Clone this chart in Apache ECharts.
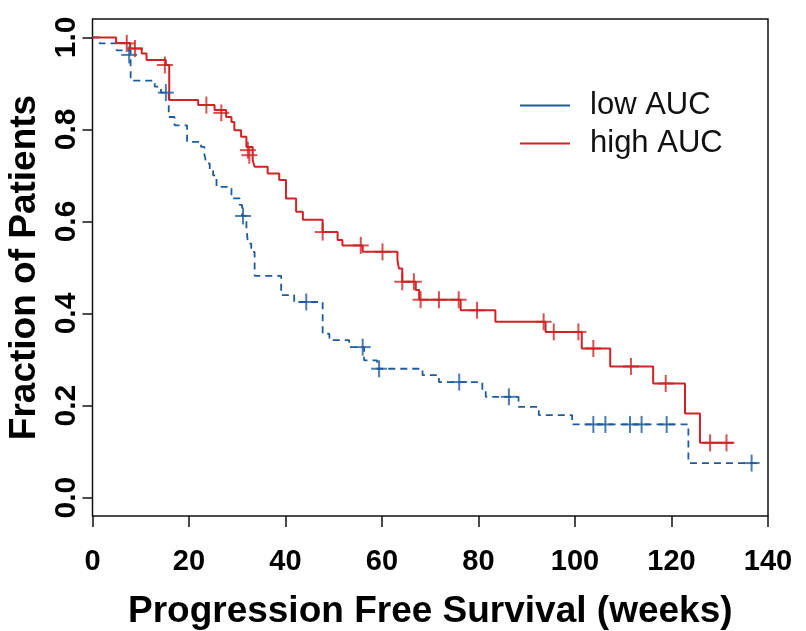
<!DOCTYPE html>
<html>
<head>
<meta charset="utf-8">
<script src="https://cdn.jsdelivr.net/npm/echarts@6/dist/echarts.min.js"></script>
<style>
  html, body { margin: 0; padding: 0; background: #fff; }
  #chart { width: 806px; height: 631px; }
</style>
</head>
<body>
<div id="chart"></div>
<script>
// Kaplan-Meier step points [week, fraction] (value after each drop)
const highAucSteps = [
  [0, 1.0], [4.9, 0.988], [7.8, 0.976], [10.2, 0.965], [11.2, 0.951], [15.2, 0.94],
  [15.9, 0.864], [21.9, 0.853], [25.3, 0.842], [27.7, 0.827], [28.8, 0.816],
  [29.4, 0.798], [30.8, 0.784], [31.9, 0.762], [33.2, 0.733], [33.6, 0.719],
  [36.3, 0.704], [38.7, 0.69], [40.1, 0.65], [42.2, 0.621], [43.6, 0.604],
  [47.7, 0.577], [50.8, 0.56], [51.8, 0.548], [56.0, 0.534], [63.2, 0.516],
  [63.5, 0.498], [64.2, 0.469], [67.0, 0.451], [67.7, 0.43], [76.3, 0.407],
  [83.5, 0.382], [93.9, 0.36], [101.4, 0.324], [107.3, 0.285], [116.2, 0.248],
  [122.8, 0.183], [125.9, 0.119], [132.8, 0.119]
];
const highAucCensor = [
  [7.1, 0.987], [8.8, 0.976], [15.0, 0.94], [23.6, 0.853], [26.7, 0.836],
  [32.2, 0.755], [32.5, 0.744], [47.7, 0.577], [55.6, 0.548], [60.1, 0.534],
  [64.2, 0.469], [66.6, 0.469], [68.0, 0.43], [71.8, 0.43], [75.9, 0.43],
  [79.7, 0.407], [93.5, 0.382], [95.6, 0.36], [100.7, 0.36], [103.8, 0.324],
  [111.6, 0.285], [118.8, 0.248], [128.0, 0.119], [131.4, 0.119]
];
const lowAucSteps = [
  [0, 1.0], [1.5, 0.987], [5.0, 0.972], [7.9, 0.906], [12.9, 0.893], [14.2, 0.88],
  [15.8, 0.827], [17.0, 0.809], [19.6, 0.773], [22.5, 0.762], [23.2, 0.745],
  [23.6, 0.726], [24.3, 0.712], [25.0, 0.70], [25.7, 0.675], [28.8, 0.65],
  [30.5, 0.636], [31.0, 0.612], [31.9, 0.588], [32.2, 0.552], [32.9, 0.534],
  [33.6, 0.482], [39.1, 0.44], [41.8, 0.425], [47.7, 0.356], [49.1, 0.342],
  [53.2, 0.327], [56.3, 0.298], [59.0, 0.28], [68.4, 0.266], [71.8, 0.251],
  [80.8, 0.233], [81.5, 0.219], [88.3, 0.197], [92.5, 0.179], [99.4, 0.159],
  [123.5, 0.075], [138.3, 0.075]
];
const lowAucCensor = [
  [7.6, 0.962], [15.2, 0.88], [31.2, 0.612], [44.3, 0.425], [56.0, 0.327],
  [59.4, 0.28], [76.0, 0.251], [86.3, 0.219], [103.8, 0.159], [106.3, 0.159],
  [111.4, 0.159], [113.8, 0.159], [119.0, 0.159], [136.6, 0.075]
];
const xTicks = [0, 20, 40, 60, 80, 100, 120, 140];
const yTicks = [0, 0.2, 0.4, 0.6, 0.8, 1.0];

const blue = '#1f5b9c';
const red = '#cf2326';
const axisFont = '"Liberation Sans", Arial, sans-serif';

const chart = echarts.init(document.getElementById('chart'));

// censor marks drawn as "+" from two thin rects
const censorSeries = (name, data, color) => [
  {
    name, type: 'scatter', data, symbol: 'rect', symbolSize: [16, 2],
    itemStyle: { color }, silent: true, z: 3
  },
  {
    name, type: 'scatter', data, symbol: 'rect', symbolSize: [2, 17],
    itemStyle: { color }, silent: true, z: 3
  }
];

chart.setOption({
  animation: false,
  backgroundColor: '#fff',
  grid: {
    left: 92.5, right: 38, top: 19, bottom: 115,
    outerBoundsMode: 'none',
    show: true, borderColor: '#111', borderWidth: 1.5, containLabel: false
  },
  legend: {
    orient: 'vertical',
    left: 515, top: 85,
    itemGap: 7,
    itemWidth: 50, itemHeight: 2,
    icon: 'rect',
    textStyle: { fontFamily: axisFont, fontSize: 31, color: '#111', padding: [0, 0, 0, 15] },
    data: [
      { name: 'low AUC', itemStyle: { color: blue } },
      { name: 'high AUC', itemStyle: { color: red } }
    ]
  },
  xAxis: {
    type: 'value', min: 0, max: 140, interval: 20,
    name: 'Progression Free Survival (weeks)',
    nameLocation: 'middle', nameGap: 77,
    nameTextStyle: { fontFamily: axisFont, fontWeight: 'bold', fontSize: 37, color: '#000' },
    axisLine: { show: false, onZero: false },
    axisTick: { show: true, length: 11, lineStyle: { color: '#111', width: 1.5 }, customValues: xTicks },
    axisLabel: {
      customValues: xTicks, margin: 31,
      fontFamily: axisFont, fontWeight: 'bold', fontSize: 29, color: '#000'
    },
    splitLine: { show: false }
  },
  yAxis: {
    type: 'value', min: -0.04, max: 1.04,
    name: 'Fraction of Patients',
    nameLocation: 'middle', nameGap: 42, nameRotate: 90,
    nameTextStyle: { fontFamily: axisFont, fontWeight: 'bold', fontSize: 37, color: '#000' },
    axisLine: { show: false, onZero: false },
    axisTick: { show: true, length: 10, lineStyle: { color: '#111', width: 1.5 }, customValues: yTicks },
    axisLabel: {
      customValues: yTicks, margin: 11, rotate: 90,
      formatter: (v) => v.toFixed(1),
      fontFamily: axisFont, fontWeight: 'bold', fontSize: 30, color: '#000'
    },
    splitLine: { show: false }
  },
  series: [
    {
      name: 'low AUC', type: 'line', step: 'end', data: lowAucSteps,
      showSymbol: false, silent: true,
      lineStyle: { color: blue, width: 1.8, type: [7, 5] },
      itemStyle: { color: blue }, z: 2
    },
    {
      name: 'high AUC', type: 'line', step: 'end', data: highAucSteps,
      showSymbol: false, silent: true,
      lineStyle: { color: red, width: 2 },
      itemStyle: { color: red }, z: 2
    },
    ...censorSeries('low AUC', lowAucCensor, blue),
    ...censorSeries('high AUC', highAucCensor, red)
  ]
});
</script>
</body>
</html>
